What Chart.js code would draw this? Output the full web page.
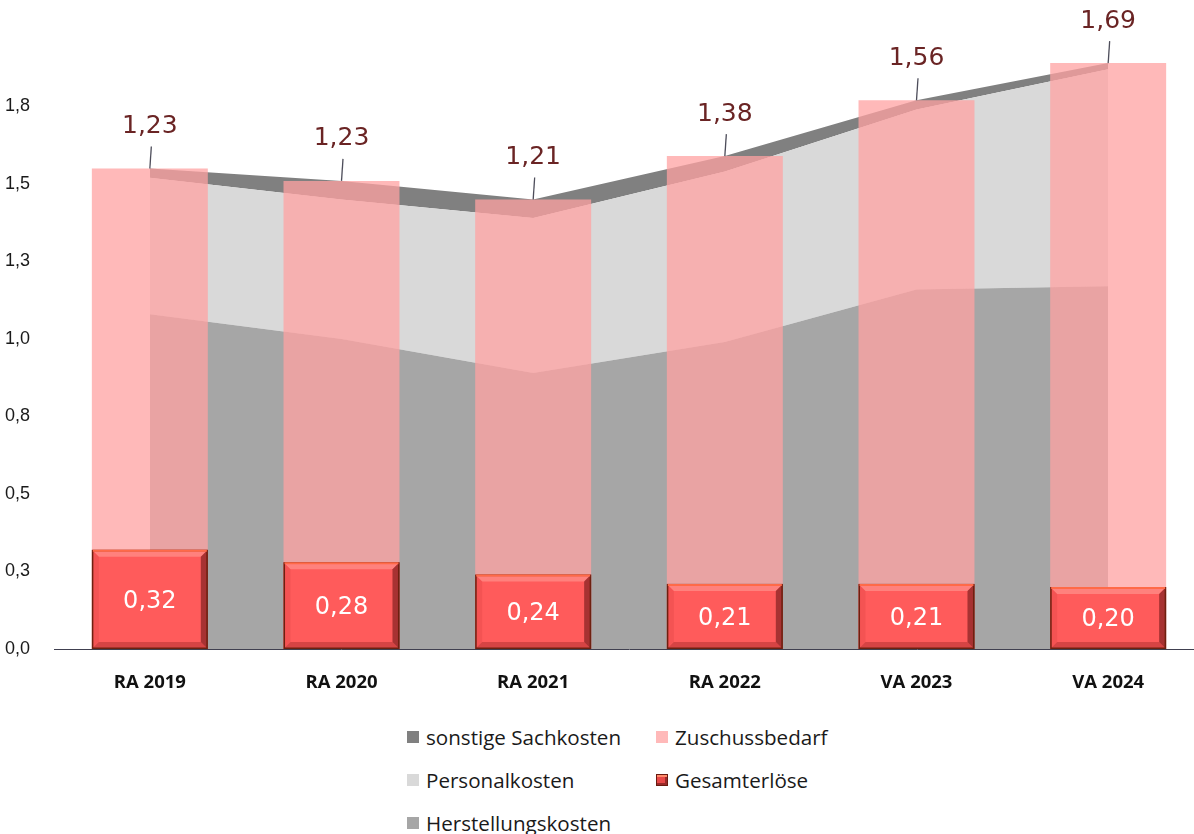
<!DOCTYPE html>
<html>
<head>
<meta charset="utf-8">
<script src="https://cdn.jsdelivr.net/npm/chart.js@4/dist/chart.umd.min.js"></script>
<style>
  html, body { margin: 0; padding: 0; background: #fff; overflow: hidden; }
  #wrap { position: relative; width: 1194px; height: 834px; overflow: hidden; }
  #c { position: absolute; left: 0; top: 0; }
  #legend {
    position: absolute; left: 407px; top: 715px;
    display: grid; grid-template-columns: 249px auto; grid-auto-rows: 43px;
    font-family: 'Open Sans', sans-serif; font-size: 20.6px; color: #1a1a1a;
  }
  .item { display: flex; align-items: center; gap: 7px; white-space: nowrap; }
  .box { width: 12px; height: 12px; box-sizing: border-box; flex: none; }
</style>
</head>
<body>
<div id="wrap">
  <canvas id="c" width="1204" height="700"></canvas>
  <div id="legend"></div>
</div>
<script>
// categories and values
const categories = ['RA 2019', 'RA 2020', 'RA 2021', 'RA 2022', 'VA 2023', 'VA 2024'];
const gesamterloese = [0.32, 0.28, 0.24, 0.21, 0.21, 0.20];
const zuschussbedarf = [1.23, 1.23, 1.21, 1.38, 1.56, 1.69];
const herstellungskosten = [1.08, 1.00, 0.89, 0.99, 1.16, 1.17];
const personalkosten = [0.44, 0.45, 0.50, 0.55, 0.58, 0.70];
const sonstigeSachkosten = [0.03, 0.06, 0.06, 0.05, 0.03, 0.02];
const yTickLabels = ['0,0', '0,3', '0,5', '0,8', '1,0', '1,3', '1,5', '1,8'];

const fmt = v => v.toFixed(2).replace('.', ',');

// draws bevel on the red bars plus all value labels
const labelPlugin = {
    id: 'labels',
    afterDatasetsDraw(chart) {
        const ctx = chart.ctx;
        ctx.save();

        // red bars: bevel + white value
        const red = chart.getDatasetMeta(0);
        red.data.forEach((bar, i) => {
            const L = bar.x - bar.width / 2, R = bar.x + bar.width / 2;
            const T = bar.y, B = bar.base, b = 7;
            const poly = (pts, fill) => {
                ctx.beginPath();
                ctx.moveTo(pts[0][0], pts[0][1]);
                pts.slice(1).forEach(p => ctx.lineTo(p[0], p[1]));
                ctx.closePath();
                ctx.fillStyle = fill;
                ctx.fill();
            };
            poly([[L, T], [R, T], [R - b, T + b], [L + b, T + b]], 'rgba(255,200,190,0.35)');
            poly([[R, T], [R, B], [R - b, B - b], [R - b, T + b]], 'rgba(60,0,0,0.45)');
            poly([[L, B], [R, B], [R - b, B - b], [L + b, B - b]], 'rgba(90,0,0,0.25)');
            poly([[L, T], [L + b, T + b], [L + b, B - b], [L, B]], 'rgba(120,0,0,0.08)');
            ctx.strokeStyle = '#6e2010';
            ctx.lineWidth = 1.5;
            ctx.strokeRect(L + 0.75, T + 0.75, bar.width - 1.5, B - T - 1.5);
            ctx.strokeStyle = '#ff6a48';
            ctx.lineWidth = 2;
            ctx.beginPath(); ctx.moveTo(L + 1, T + 1); ctx.lineTo(R - 1, T + 1); ctx.stroke();

            ctx.fillStyle = '#ffffff';
            ctx.font = '24px "DejaVu Sans"';
            ctx.textAlign = 'center';
            ctx.textBaseline = 'middle';
            ctx.fillText(fmt(gesamterloese[i]), bar.x, (T + B) / 2 + 2);
        });

        // pink bars: label above with a leader line
        const pink = chart.getDatasetMeta(1);
        pink.data.forEach((bar, i) => {
            ctx.strokeStyle = '#4d4d5a';
            ctx.lineWidth = 1.3;
            ctx.beginPath();
            ctx.moveTo(bar.x + 1.5, bar.y - 22);
            ctx.lineTo(bar.x, bar.y);
            ctx.stroke();
            ctx.fillStyle = '#6a2424';
            ctx.font = '25px "DejaVu Sans"';
            ctx.textAlign = 'center';
            ctx.textBaseline = 'middle';
            ctx.fillText(fmt(zuschussbedarf[i]), bar.x, bar.y - 42);
        });
        ctx.restore();
    }
};

const areaStyle = { type: 'line', stack: 'area', order: 1, pointRadius: 0, pointHoverRadius: 0,
    borderWidth: 0, borderColor: 'rgba(0,0,0,0)', tension: 0 };

new Chart(document.getElementById('c').getContext('2d'), {
    data: {
        labels: categories,
        datasets: [
            { type: 'bar', label: 'Gesamterlöse', data: gesamterloese, stack: 'bars', order: 0,
              backgroundColor: '#ff5b5b', borderWidth: 0, categoryPercentage: 1, barPercentage: 0.605 },
            { type: 'bar', label: 'Zuschussbedarf', data: zuschussbedarf, stack: 'bars', order: 0,
              backgroundColor: 'rgba(255,162,162,0.75)', borderWidth: 0, categoryPercentage: 1, barPercentage: 0.605 },
            { ...areaStyle, label: 'Herstellungskosten', data: herstellungskosten,
              backgroundColor: '#a6a6a6', fill: 'origin' },
            { ...areaStyle, label: 'Personalkosten', data: personalkosten,
              backgroundColor: '#d9d9d9', fill: '-1' },
            { ...areaStyle, label: 'sonstige Sachkosten', data: sonstigeSachkosten,
              backgroundColor: '#808080', fill: '-1' }
        ]
    },
    options: {
        responsive: false,
        animation: false,
        layout: { padding: { top: 29, left: 0, right: 0, bottom: 0 } },
        plugins: { legend: { display: false }, tooltip: { enabled: false } },
        scales: {
            x: {
                stacked: true,
                grid: { display: false },
                border: { display: true, color: '#404050', width: 1 },
                ticks: { color: '#111', padding: 15, font: { family: 'Open Sans', size: 18.5, weight: 'bold' } },
                afterFit: s => { s.height = 51; }
            },
            y: {
                stacked: true,
                min: 0, max: 2.0,
                grid: { display: false },
                border: { display: false },
                ticks: {
                    stepSize: 0.25, color: '#1a1a1a', padding: 16,
                    font: { family: 'Liberation Sans', size: 18 },
                    callback: (v, i) => yTickLabels[i] || ''
                },
                afterFit: s => { s.width = 54; }
            }
        }
    },
    plugins: [labelPlugin]
});

// legend as two columns, same order as in the reference
const legendItems = [
    ['sonstige Sachkosten', 'background:#808080'],
    ['Zuschussbedarf', 'background:#ffb9b9'],
    ['Personalkosten', 'background:#d9d9d9'],
    ['Gesamterlöse', 'background:#e84848;border:1px solid #6a1a10;box-shadow:inset 0 2px 0 #ff8a6a, inset -2px -2px 0 #9a2a2a'],
    ['Herstellungskosten', 'background:#a6a6a6']
];
document.getElementById('legend').innerHTML = legendItems
    .map(([name, st]) => `<div class="item"><span class="box" style="${st}"></span><span>${name}</span></div>`)
    .join('');
</script>
</body>
</html>
